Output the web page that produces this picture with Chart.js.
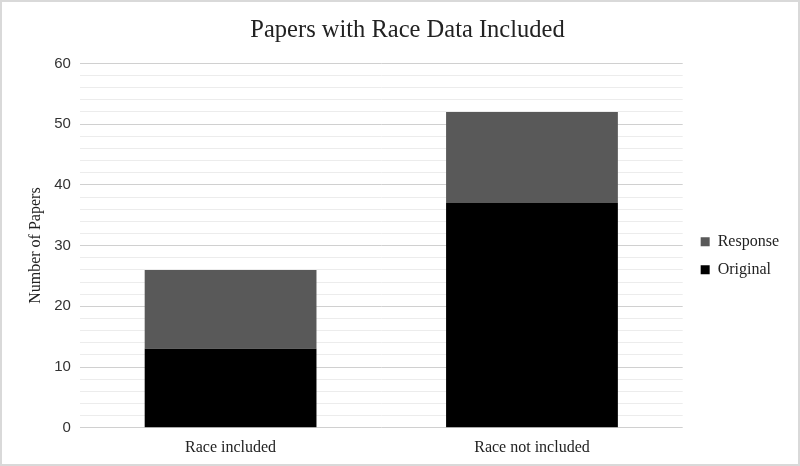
<!DOCTYPE html>
<html>
<head>
<meta charset="utf-8">
<script src="https://cdn.jsdelivr.net/npm/chart.js@4/dist/chart.umd.min.js"></script>
<style>
  html, body { margin: 0; padding: 0; background: #fff; }
  #wrap { width: 800px; height: 466px; box-sizing: border-box; border: 2px solid #d9d9d9; }
</style>
</head>
<body>
<div id="wrap"><canvas id="js-chart" width="796" height="462"></canvas></div>
<script>
const CATEGORIES = ['Race included', 'Race not included'];
const ORIGINAL = [13, 37];
const RESPONSE = [13, 15];

const SERIF = '"Liberation Serif", "DejaVu Serif", serif';

const ctx = document.querySelector('#js-chart').getContext('2d');

new Chart(ctx, {
  type: 'bar',
  data: {
    labels: CATEGORIES,
    datasets: [
      {
        label: 'Original',
        data: ORIGINAL,
        backgroundColor: '#000000',
        barPercentage: 0.57,
        categoryPercentage: 1,
      },
      {
        label: 'Response',
        data: RESPONSE,
        backgroundColor: '#595959',
        barPercentage: 0.57,
        categoryPercentage: 1,
      },
    ],
  },
  options: {
    responsive: false,
    animation: false,
    layout: { padding: { left: 24, right: 9, top: 10, bottom: 5 } },
    plugins: {
      title: {
        display: true,
        text: 'Papers with Race Data Included',
        color: '#222',
        font: { family: SERIF, size: 24.5, weight: 'normal' },
        padding: { top: 4, bottom: 18 },
      },
      legend: {
        position: 'right',
        reverse: true,
        title: { display: true, text: ' ', font: { size: 12 }, padding: { top: 14, bottom: 12 } },
        labels: {
          color: '#222',
          boxWidth: 9,
          boxHeight: 9,
          padding: 12,
          font: { family: SERIF, size: 16 },
        },
      },
      tooltip: { enabled: false },
    },
    scales: {
      x: {
        stacked: true,
        grid: { display: false },
        border: { display: false },
        ticks: { color: '#222', font: { family: SERIF, size: 16 }, padding: 2 },
      },
      y: {
        stacked: true,
        min: 0,
        max: 60,
        border: { display: false },
        ticks: {
          stepSize: 2,
          autoSkip: false,
          color: '#333',
          padding: 9,
          font: { family: '"Liberation Sans", Arial, sans-serif', size: 15 },
          callback: v => (v % 10 === 0 ? v : ''),
        },
        grid: {
          drawTicks: false,
          color: c => (c.tick.value % 10 === 0 ? '#d0d0d0' : '#ececec'),
          lineWidth: 1,
        },
        title: {
          display: true,
          text: 'Number of Papers',
          color: '#222',
          font: { family: SERIF, size: 16 },
          padding: 0,
        },
      },
      // empty spacer between the plot and the legend
      spacer: {
        type: 'linear',
        position: 'right',
        display: true,
        grid: { display: false },
        border: { display: false },
        ticks: { display: false },
        afterFit: s => { s.width = 6; },
      },
    },
  },
});
</script>
</body>
</html>
